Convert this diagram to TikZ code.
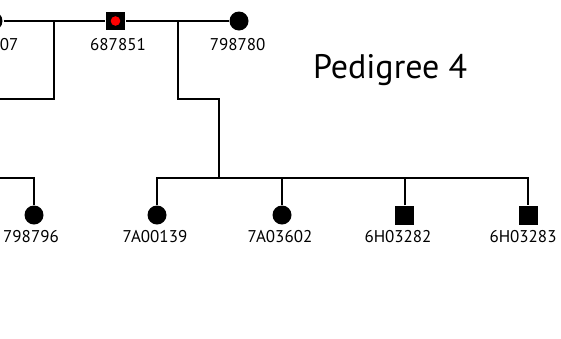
\documentclass[tikz,border=0pt]{standalone}
\usepackage{fontspec}
\setmainfont{PT Sans}
\begin{document}
\begin{tikzpicture}[x=1pt,y=-1pt,line width=2pt,
  male/.style={rectangle,fill=black,minimum width=19pt,minimum height=18.5pt,inner sep=0pt},
  female/.style={circle,fill=black,minimum size=19pt,inner sep=0pt},
  affected/.style={circle,fill=red,minimum size=9.6pt,inner sep=0pt},
  lab/.style={font=\fontsize{17}{20}\selectfont,inner sep=0pt},
  title/.style={font=\fontsize{34}{40}\selectfont,inner sep=0pt}]
\useasboundingbox (0,0) rectangle (561,338);
\clip (0,0) rectangle (561,338);
% generation I
\node[female] (f07) at (-7,21) {};
\node[male] (m851) at (115.5,21) {};
\node[affected] (d851) at (m851) {};
\node[female] (f780) at (239,21) {};
\node[lab,anchor=east] (l07) at (19.5,44.7) {07};
\node[lab] (l851) at (118,44.7) {687851};
\node[lab] (l780) at (237.7,44.7) {798780};
\draw (f07) -- (m851) -- (f780);
% descent lines
\coordinate (a1) at (54,21);
\coordinate (a2) at (-5,99);
\draw (a1) |- (a2);
\coordinate (b1) at (178,21);
\coordinate (b2) at (219,178);
\draw (b1) -- ++(0,78) -| (b2);
% generation II
\node[female] (k0) at (34,215) {};
\node[female] (k1) at (157,215) {};
\node[female] (k2) at (282,215) {};
\node[male] (k3) at (404.5,215.5) {};
\node[male] (k4) at (528,215.5) {};
\coordinate (s0) at (-5,178);
\draw (s0) -| (k0);
\coordinate (s1) at (157,178);
\coordinate (s4) at (528,178);
\draw (k1) -- (s1) -- (s4) -- (k4);
\draw (k2) -- (k2 |- s1);
\draw (k3) -- (k3 |- s1);
\node[lab] (l796) at (31,237) {798796};
\node[lab] (l139) at (155,237) {7A00139};
\node[lab] (l602) at (280,237) {7A03602};
\node[lab] (l282) at (398,237) {6H03282};
\node[lab] (l283) at (523,237) {6H03283};
\node[title,anchor=base west] (t) at (312,78) {Pedigree 4};
\end{tikzpicture}
\end{document}
